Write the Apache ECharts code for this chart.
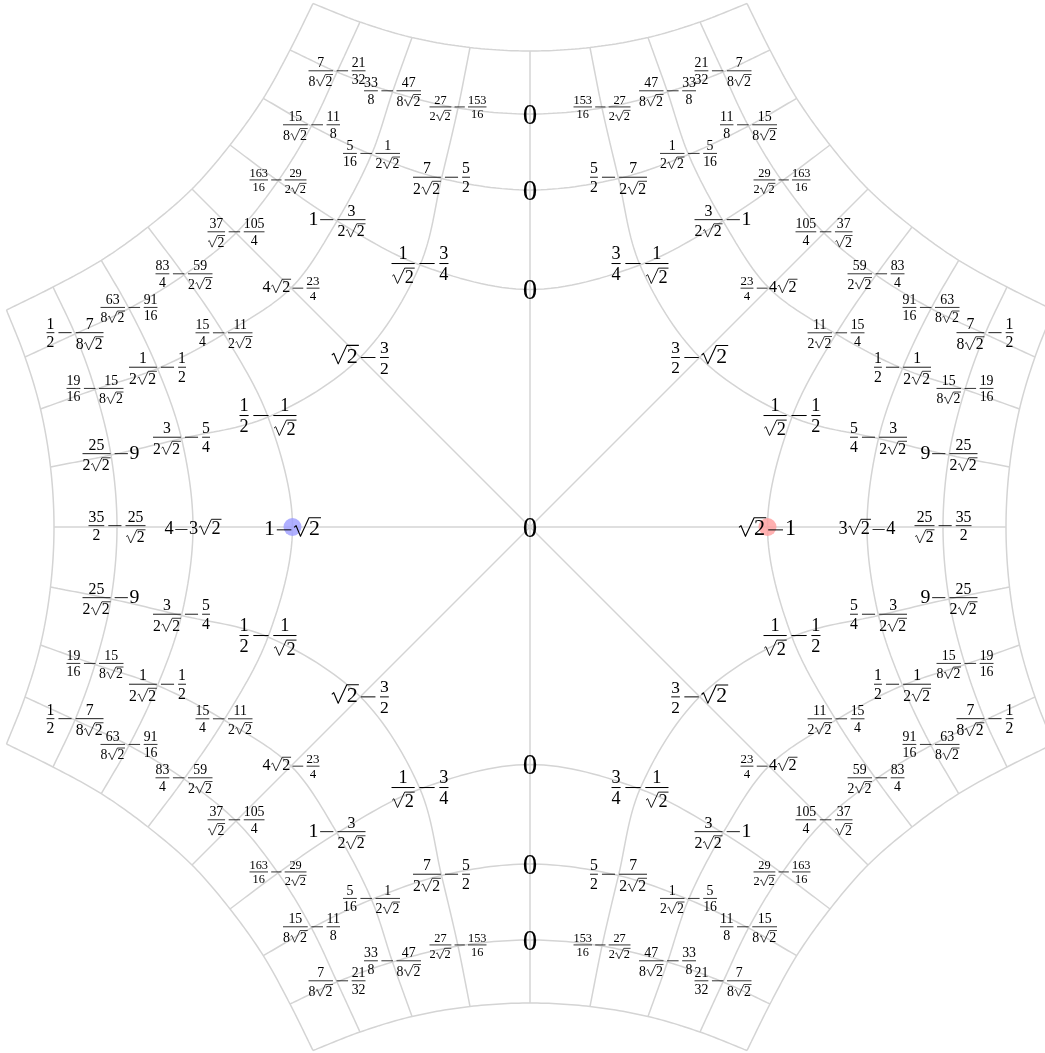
<!DOCTYPE html>
<html>
<head>
<meta charset="utf-8">
<style>
html,body{margin:0;padding:0;background:#ffffff;}
#chart{width:1045px;height:1053px;}
</style>
<script src="https://cdn.jsdelivr.net/npm/echarts/dist/echarts.min.js"></script>
</head>
<body>
<div id="chart"></div>
<script>
// ---------------- DATA ----------------
// Vertices of one 45° sector (between the upward axis and the up-left diagonal),
// measured from the picture: pixels relative to the centre, y pointing up.
// Row i = curve i of the family centred on the upward axis (row 0 = the diagonal ray itself),
// column j = curve j of the family centred on the up-left diagonal (column 0 = the axis ray itself).
const vertexX = [
  [0, -169.7, -239, -294, -338],
  [0, -110, -193, -252, -300],
  [0, -88.5, -158.5, -218.5, -266.7],
  [0, -72, -137.5, -193, -240],
  [0, -60, -118, -170, -217]
];
const vertexY = [
  [0, 169.7, 239, 294, 338],
  [237.5, 262, 306, 346, 382],
  [337, 348.5, 372.5, 401, 428.7],
  [413, 419, 435, 455, 477],
  [476, 479.5, 489.5, 505, 523.5]
];

// Labels ("a/b" is a fraction, "√2" a square root, " - " a minus sign)
const centreLabel = '0';
const verticalAxisLabels = ['0', '0', '0'];
const leftAxisLabels = ['1 - √2', '4 - 3√2', '35/2 - 25/√2'];
const leftDiagonalLabels = ['√2 - 3/2', '4√2 - 23/4', '37/√2 - 105/4'];
// sector next to the vertical axis: [axis curve level][diagonal curve level]
const sectorALabels = [
  ['1/√2 - 3/4', '1 - 3/2√2', '163/16 - 29/2√2'],
  ['7/2√2 - 5/2', '5/16 - 1/2√2', '15/8√2 - 11/8'],
  ['27/2√2 - 153/16', '33/8 - 47/8√2', '7/8√2 - 21/32']
];
// sector next to the horizontal axis: [axis curve level][diagonal curve level]
const sectorBLabels = [
  ['1/2 - 1/√2', '15/4 - 11/2√2', '83/4 - 59/2√2'],
  ['3/2√2 - 5/4', '1/2√2 - 1/2', '63/8√2 - 91/16'],
  ['25/2√2 - 9', '19/16 - 15/8√2', '1/2 - 7/8√2']
];
const markerColors = ['#9c9cff', '#ff9e9e'];   // left point, right point

// ---------------- GEOMETRY ----------------
const D2R = Math.PI / 180;
const baseAngle = k => (90 + 45 * k) * D2R;
// vertex (i,j) of the fundamental sector mapped into sector s (between direction s and s+1)
function place(i, j, s) {
  const x = vertexX[i][j], y = vertexY[i][j];
  const r = Math.hypot(x, y), th = Math.atan2(-x, y);
  const a = (s % 2 === 0) ? baseAngle(s) + th : baseAngle(s + 1) - th;
  return [r * Math.cos(a), r * Math.sin(a)];
}
function spline(P, n) {
  n = n || 16;
  const L = P.length;
  const ext = [[2 * P[0][0] - P[1][0], 2 * P[0][1] - P[1][1]]].concat(P,
    [[2 * P[L - 1][0] - P[L - 2][0], 2 * P[L - 1][1] - P[L - 2][1]]]);
  const out = [P[0].slice()];
  const dist = (a, b) => Math.max(1e-6, Math.pow(Math.hypot(a[0] - b[0], a[1] - b[1]), 0.5));
  const mix = (a, b, wa, wb) => [a[0] * wa + b[0] * wb, a[1] * wa + b[1] * wb];
  for (let k = 1; k < ext.length - 2; k++) {
    const p0 = ext[k - 1], p1 = ext[k], p2 = ext[k + 1], p3 = ext[k + 2];
    const t0 = 0, t1 = t0 + dist(p0, p1), t2 = t1 + dist(p1, p2), t3 = t2 + dist(p2, p3);
    for (let q = 1; q <= n; q++) {
      const t = t1 + (t2 - t1) * q / n;
      const A1 = mix(p0, p1, (t1 - t) / (t1 - t0), (t - t0) / (t1 - t0));
      const A2 = mix(p1, p2, (t2 - t) / (t2 - t1), (t - t1) / (t2 - t1));
      const A3 = mix(p2, p3, (t3 - t) / (t3 - t2), (t - t2) / (t3 - t2));
      const B1 = mix(A1, A2, (t2 - t) / (t2 - t0), (t - t0) / (t2 - t0));
      const B2 = mix(A2, A3, (t3 - t) / (t3 - t1), (t - t1) / (t3 - t1));
      out.push(mix(B1, B2, (t2 - t) / (t2 - t1), (t - t1) / (t2 - t1)));
    }
  }
  return out;
}

const curves = [];
for (let a = 0; a < 8; a += 2) {            // curves centred on the axes
  for (let i = 1; i <= 4; i++) {
    const pts = [];
    for (let j = 4; j >= 1; j--) pts.push(place(i, j, (a + 7) % 8));
    pts.push(place(i, 0, a));
    for (let j = 1; j <= 4; j++) pts.push(place(i, j, a));
    curves.push(spline(pts));
  }
}
for (let d = 1; d < 8; d += 2) {            // curves centred on the diagonals
  for (let j = 1; j <= 4; j++) {
    const pts = [];
    for (let i = 4; i >= 1; i--) pts.push(place(i, j, d - 1));
    pts.push(place(0, j, d - 1));
    for (let i = 1; i <= 4; i++) pts.push(place(i, j, d));
    curves.push(spline(pts));
  }
}
for (let a = 0; a < 4; a++) {               // straight lines through the centre
  const p = (a % 2 === 0) ? place(4, 0, a) : place(0, 4, a - 1);
  curves.push([p, [-p[0], -p[1]]]);
}

// ---------------- LABEL TYPESETTING ----------------
const FONT = 'Liberation Serif';
const cv = document.createElement('canvas').getContext('2d');
function textW(s, size) { cv.font = size + 'px "' + FONT + '"'; return cv.measureText(s).width; }
let MID = 0.3;
try {
  cv.font = '100px "' + FONT + '"';
  cv.textBaseline = 'middle';
  const dm = cv.measureText('1').actualBoundingBoxDescent;
  cv.textBaseline = 'alphabetic';
  const da = cv.measureText('1').actualBoundingBoxDescent;
  if (isFinite(dm) && isFinite(da)) MID = (dm - da) / 100;
} catch (e) {}

function row(str, size, base, x0, items) {
  let x = x0;
  const parts = str.split('√2');
  parts.forEach((chunk, k) => {
    if (chunk) {
      const w = textW(chunk, size);
      items.push({ t: 'text', s: chunk, size: size, x: x, base: base, w: w });
      x += w;
    }
    if (k < parts.length - 1) {
      const rw = 0.72 * size, w2 = textW('2', size), top = base - 0.8 * size;
      const lw = Math.max(0.75, 0.05 * size);
      items.push({ t: 'poly', lw: lw, pts: [
        [x + 0.04 * size, base - 0.36 * size], [x + 0.13 * size, base - 0.44 * size],
        [x + 0.33 * size, base + 0.04 * size], [x + rw, top], [x + rw + w2 + 0.05 * size, top]] });
      items.push({ t: 'text', s: '2', size: size, x: x + rw, base: base, w: w2 });
      x += rw + w2 + 0.05 * size;
    }
  });
  return x - x0;
}
function frac(num, den, m, t, x0, items) {
  const f = 0.8 * m;
  const wn = row(num, f, 0, 0, []), wd = row(den, f, 0, 0, []);
  const W = Math.max(wn, wd), pad = 0.12 * m;
  const nb = -(0.2 * f + t / 2 + 0.4);
  const denTop = den.indexOf('√2') >= 0 ? 0.8 * f + 0.4 : 0.68 * f;
  const db = t / 2 + 0.18 * f + 0.4 + denTop;
  row(num, f, nb, x0 + pad + (W - wn) / 2, items);
  row(den, f, db, x0 + pad + (W - wd) / 2, items);
  items.push({ t: 'rect', x: x0 + pad, y: -t / 2, w: W, h: t });
  return W + 2 * pad;
}
function typeset(str, m) {
  const items = [];
  const t = Math.max(0.8, 0.045 * m);
  let x = 0;
  str.split(' - ').forEach((term, k) => {
    if (k > 0) {
      const w = 0.84 * m, ink = 0.667 * m;
      items.push({ t: 'rect', x: x + (w - ink) / 2, y: -t / 2, w: ink, h: t });
      x += w;
    }
    if (term.indexOf('/') >= 0) {
      const parts = term.split('/');
      x += frac(parts[0], parts[1], m, t, x, items);
    } else {
      x += row(term, m, 0.25 * m, x, items);
    }
  });
  return items;
}
function bbox(items) {
  let x0 = 1e9, x1 = -1e9, y0 = 1e9, y1 = -1e9;
  items.forEach(it => {
    if (it.t === 'text') {
      x0 = Math.min(x0, it.x); x1 = Math.max(x1, it.x + it.w);
      y0 = Math.min(y0, it.base - 0.68 * it.size); y1 = Math.max(y1, it.base);
    } else if (it.t === 'rect') {
      x0 = Math.min(x0, it.x); x1 = Math.max(x1, it.x + it.w);
      y0 = Math.min(y0, it.y); y1 = Math.max(y1, it.y + it.h);
    } else {
      it.pts.forEach(p => { x0 = Math.min(x0, p[0]); x1 = Math.max(x1, p[0]);
        y0 = Math.min(y0, p[1]); y1 = Math.max(y1, p[1]); });
    }
  });
  return { x0, x1, y0, y1 };
}
const LABEL_WIDTH = 57, ZERO_SIZE = 29;
function layoutLabel(str) {
  let m = ZERO_SIZE;
  if (str !== '0') {
    const b = bbox(typeset(str, 20));
    m = 20 * LABEL_WIDTH / (b.x1 - b.x0);
  }
  const items = typeset(str, m);
  const b = bbox(items);
  const cx = (b.x0 + b.x1) / 2, cy = (b.y0 + b.y1) / 2;
  items.forEach(it => {
    if (it.t === 'text') { it.x -= cx; it.base -= cy; }
    else if (it.t === 'rect') { it.x -= cx; it.y -= cy; }
    else it.pts = it.pts.map(p => [p[0] - cx, p[1] - cy]);
  });
  return items;
}
const swapTerms = s => s.split(' - ').reverse().join(' - ');

// label anchors (vertices) and texts
const labelTexts = [], labelData = [];
function addLabel(p, text) { labelData.push([p[0], p[1], labelTexts.length]); labelTexts.push(text); }
addLabel([0, 0], centreLabel);
for (let a = 0; a < 8; a += 2) {
  for (let i = 1; i <= 3; i++) {
    let txt;
    if (a === 0 || a === 4) txt = verticalAxisLabels[i - 1];
    else txt = a === 2 ? leftAxisLabels[i - 1] : swapTerms(leftAxisLabels[i - 1]);
    addLabel(place(i, 0, a), txt);
  }
}
for (let d = 1; d < 8; d += 2) {
  for (let j = 1; j <= 3; j++) {
    const txt = d < 4 ? leftDiagonalLabels[j - 1] : swapTerms(leftDiagonalLabels[j - 1]);
    addLabel(place(0, j, d - 1), txt);
  }
}
for (let s = 0; s < 8; s++) {
  const table = [0, 3, 4, 7].indexOf(s) >= 0 ? sectorALabels : sectorBLabels;
  for (let i = 1; i <= 3; i++) for (let j = 1; j <= 3; j++) {
    const txt = s >= 4 ? swapTerms(table[i - 1][j - 1]) : table[i - 1][j - 1];
    addLabel(place(i, j, s), txt);
  }
}
const labelLayouts = labelTexts.map(layoutLabel);

// ---------------- CHART ----------------
const chart = echarts.init(document.getElementById('chart'), null, { renderer: 'canvas' });
const series = curves.map(c => ({
  type: 'line', data: c, showSymbol: false, silent: true, smooth: false,
  lineStyle: { color: '#d4d4d4', width: 1.5 }, z: 1, animation: false
}));
series.push({
  type: 'scatter', silent: true, symbolSize: 18, z: 2, animation: false,
  data: [
    { value: place(1, 0, 2), itemStyle: { color: markerColors[0] } },
    { value: place(1, 0, 6), itemStyle: { color: markerColors[1] } }
  ]
});
series.push({
  type: 'custom', coordinateSystem: 'cartesian2d', silent: true, z: 3, clip: false,
  animation: false, encode: { x: 0, y: 1 }, data: labelData,
  renderItem: function (params, api) {
    const c = api.coord([api.value(0), api.value(1)]);
    const items = labelLayouts[api.value(2)];
    return {
      type: 'group',
      children: items.map(it => {
        if (it.t === 'text') {
          return { type: 'text', x: c[0] + it.x, y: c[1] + it.base - MID * it.size,
            style: { text: it.s, fontSize: it.size, fontFamily: FONT, fill: '#000',
              align: 'left', verticalAlign: 'middle' } };
        } else if (it.t === 'rect') {
          return { type: 'rect', shape: { x: c[0] + it.x, y: c[1] + it.y, width: it.w, height: it.h },
            style: { fill: '#000' } };
        }
        return { type: 'polyline', shape: { points: it.pts.map(p => [c[0] + p[0], c[1] + p[1]]) },
          style: { stroke: '#000', lineWidth: it.lw, fill: null, lineJoin: 'round' } };
      })
    };
  }
});
chart.setOption({
  animation: false,
  grid: { left: 0, right: 0, top: 0, bottom: 0 },
  xAxis: { type: 'value', min: -530, max: 515, show: false },
  yAxis: { type: 'value', min: -526, max: 527, show: false },
  series: series
});
</script>
</body>
</html>
